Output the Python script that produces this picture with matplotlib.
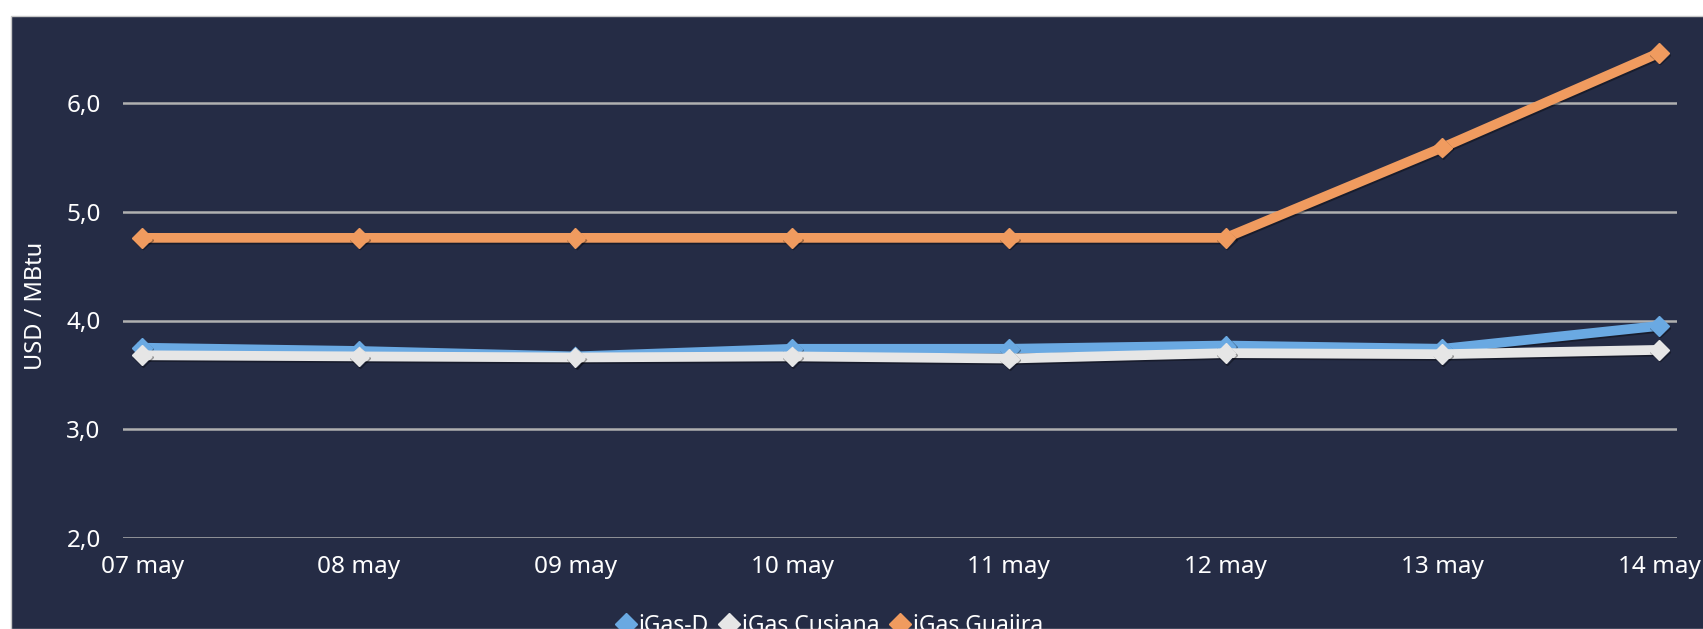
import matplotlib
matplotlib.use("Agg")
import matplotlib.pyplot as plt
import matplotlib.patheffects as pe
from matplotlib.lines import Line2D
from matplotlib.patches import Rectangle

# data
days = ["07 may", "08 may", "09 may", "10 may", "11 may", "12 may", "13 may", "14 may"]
igas_d = [3.75, 3.72, 3.67, 3.74, 3.74, 3.77, 3.74, 3.95]
igas_cusiana = [3.68, 3.67, 3.66, 3.67, 3.65, 3.70, 3.69, 3.73]
igas_guajira = [4.76, 4.76, 4.76, 4.76, 4.76, 4.76, 5.59, 6.46]
yticks = [2.0, 3.0, 4.0, 5.0, 6.0]

navy = "#252c45"
c_d = "#6aa9e2"
c_cus = "#e6e6e6"
c_gua = "#f09b5f"

plt.rcParams['font.family'] = ['Noto Sans', 'DejaVu Sans']

fig = plt.figure(figsize=(17.03, 6.29), dpi=100)
fig.patch.set_facecolor("white")
# dark panel behind the chart
fig.patches.append(Rectangle((11 / 1703, 0), 1, 613 / 629, transform=fig.transFigure,
                             facecolor=navy, edgecolor="#c8c8c8", linewidth=1, zorder=0))

ax = fig.add_axes([123 / 1703, 91 / 629, 1554 / 1703, 522 / 629])
ax.set_facecolor("none")
ax.set_zorder(2)

x = list(range(len(days)))
shadow = [pe.SimpleLineShadow(offset=(0.8, -1.2), shadow_color="black", alpha=0.35), pe.Normal()]
ax.plot(x, igas_d, color=c_d, lw=7, marker="D", ms=10, zorder=3, path_effects=shadow)
ax.plot(x, igas_cusiana, color=c_cus, lw=7, marker="D", ms=10, zorder=4, path_effects=shadow)
ax.plot(x, igas_guajira, color=c_gua, lw=7, marker="D", ms=10, zorder=5, path_effects=shadow)

ax.set_xlim(-0.088, 7.083)
ax.set_ylim(2.0, 6.8)
ax.set_yticks(yticks)
ax.set_yticklabels([("%.1f" % v).replace(".", ",") for v in yticks])
ax.set_xticks(x)
ax.set_xticklabels(days)
ax.grid(axis="y", color="#b0b0b0", lw=1.8, zorder=1)
ax.set_axisbelow(True)
for s in ax.spines.values():
    s.set_visible(False)
ax.tick_params(axis="both", length=0, colors="white", labelsize=17.5)
ax.tick_params(axis="y", pad=16)
ax.tick_params(axis="x", pad=12)
ax.set_ylabel("USD / MBtu", color="white", fontsize=17)
ax.yaxis.set_label_coords(-0.048, 0.444)

handles = [Line2D([], [], ls="none", marker="D", ms=11, color=c) for c in (c_d, c_cus, c_gua)]
leg = fig.legend(handles, ["iGas-D", "iGas Cusiana", "iGas Guajira"], loc="upper center",
                 bbox_to_anchor=(830 / 1703, 36 / 629), ncol=3, frameon=False,
                 fontsize=16.5, handlelength=0.8, handletextpad=0.15, columnspacing=0.5)
leg.set_zorder(3)
for t in leg.get_texts():
    t.set_color("white")

fig.savefig("out.png", dpi=100, facecolor=fig.get_facecolor())
